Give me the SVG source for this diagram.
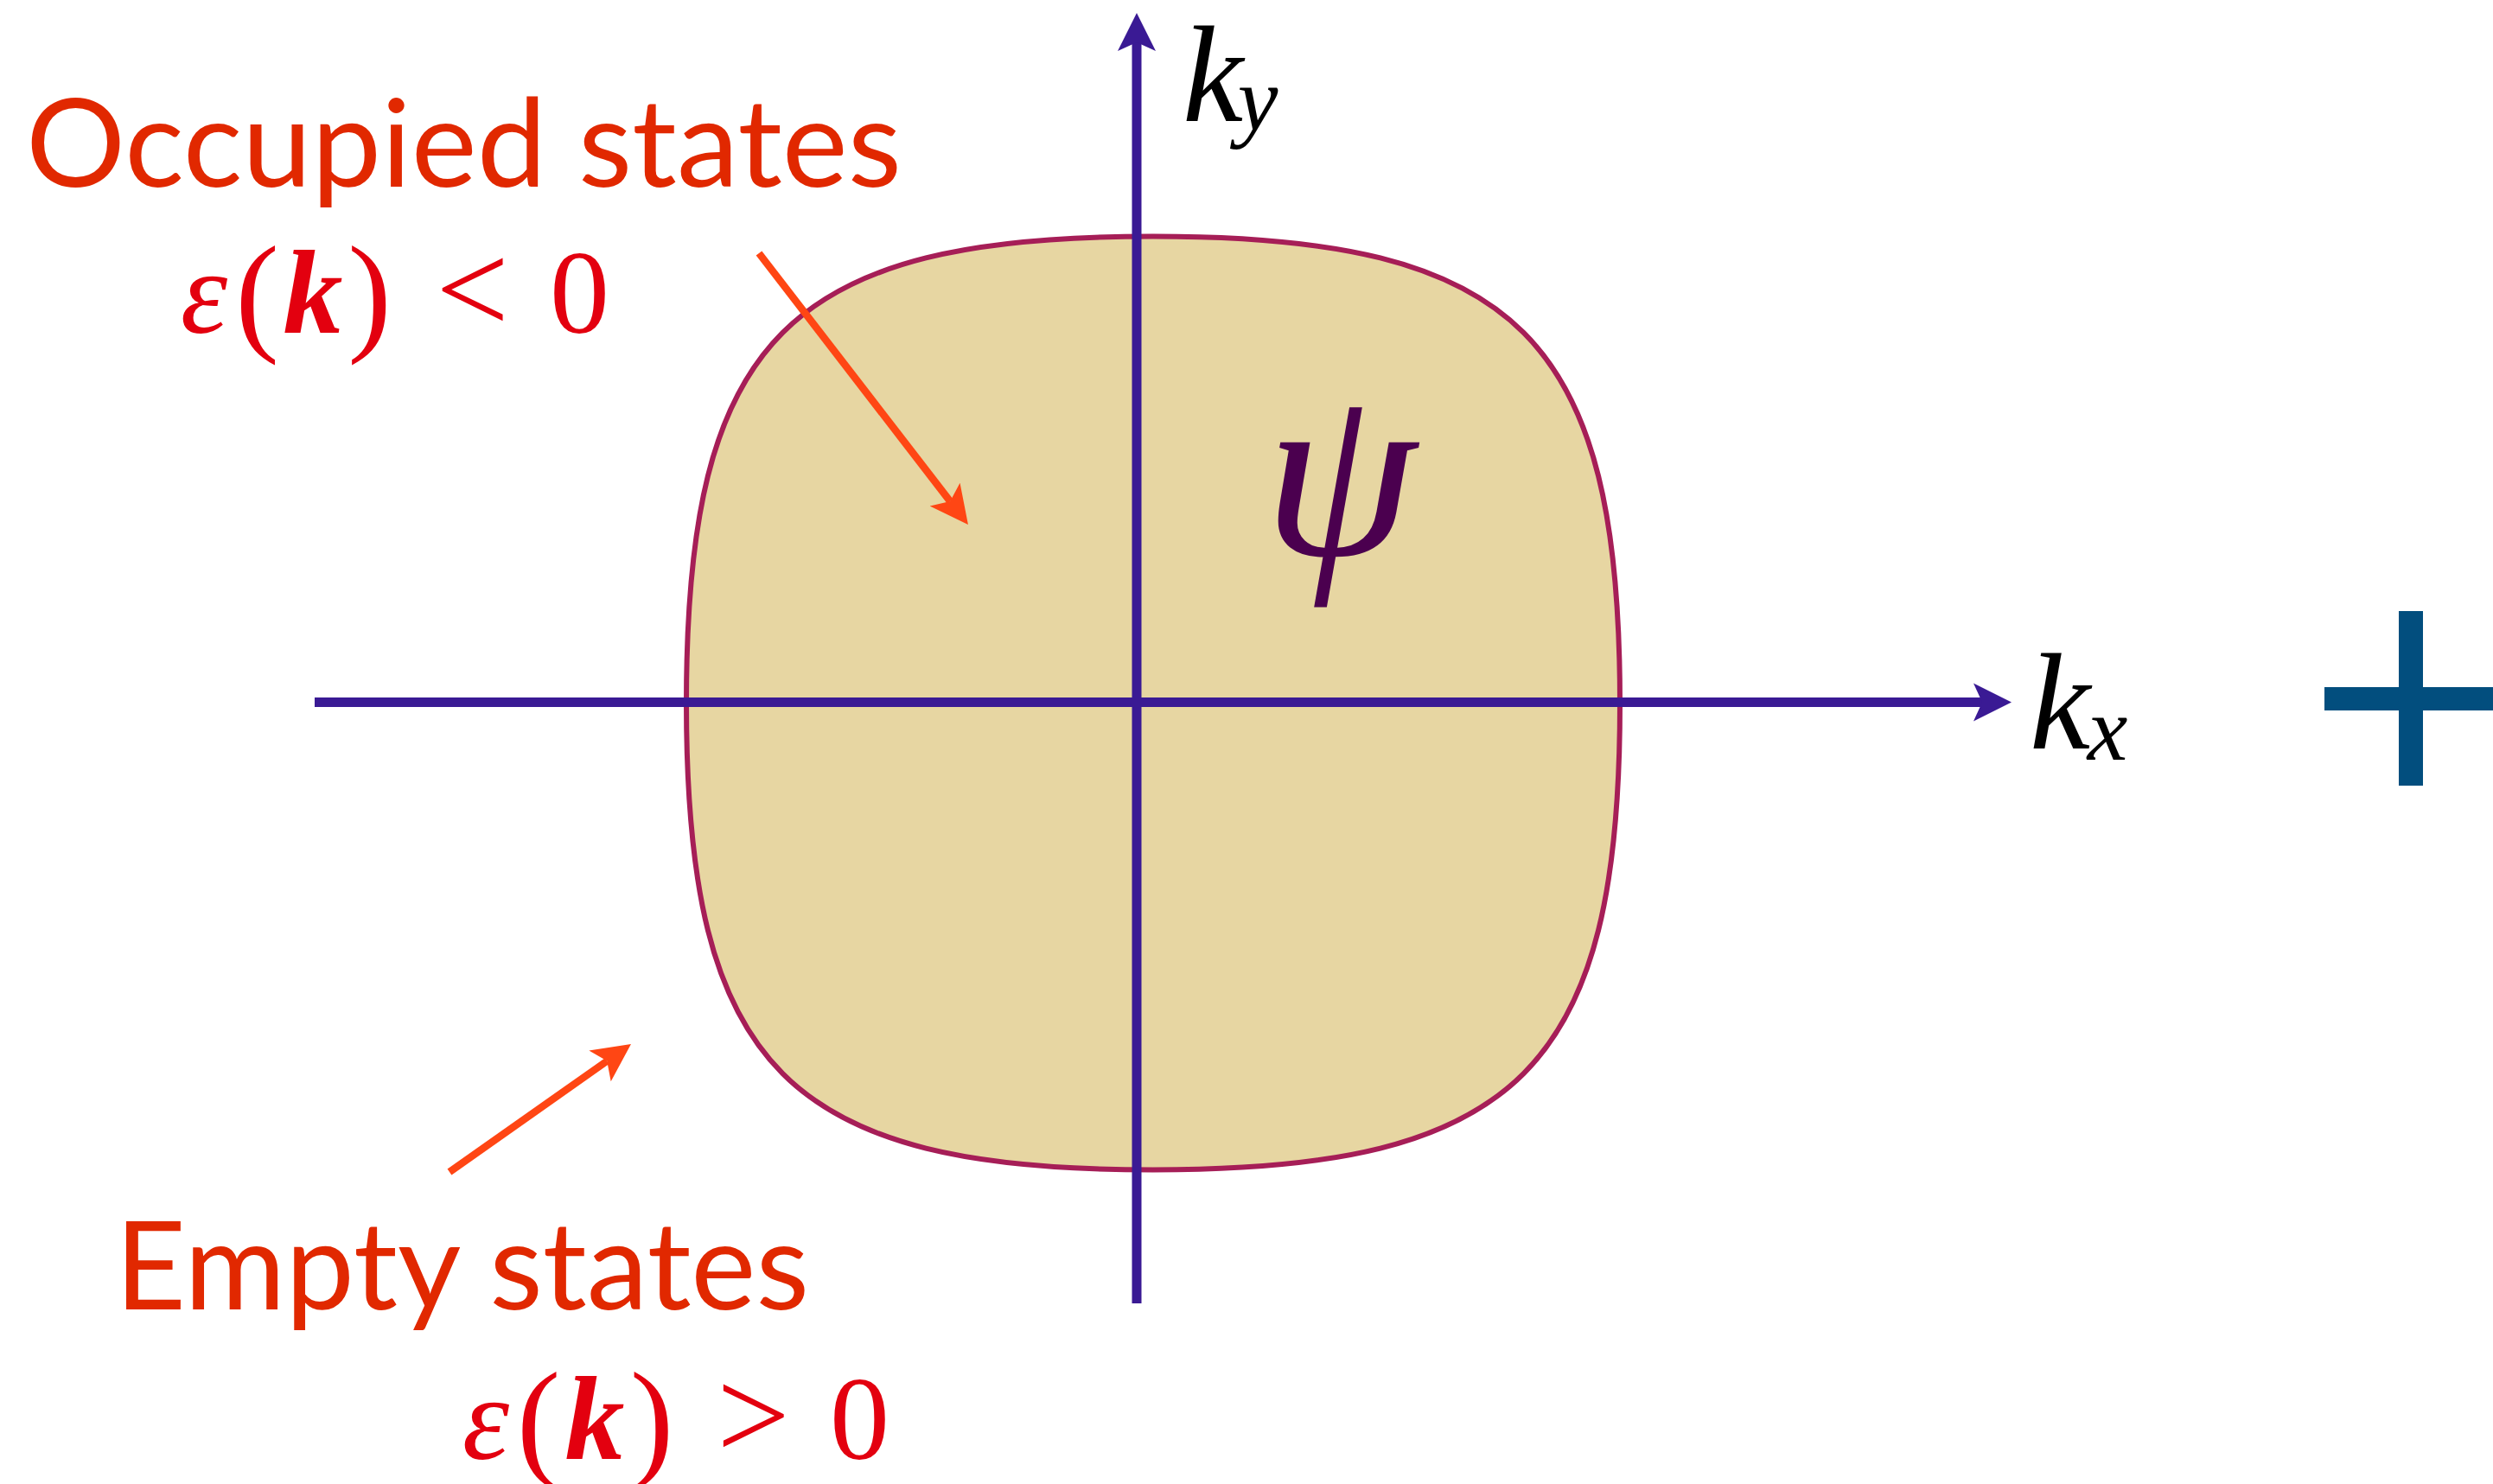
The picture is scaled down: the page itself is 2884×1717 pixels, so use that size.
<svg xmlns="http://www.w3.org/2000/svg" width="2884" height="1717" viewBox="0 0 2884 1717">
  <style>
    .title { font-family: "Lato", "Open Sans", sans-serif; font-size: 142px; fill: #E12800; }
    .math { font-family: "Liberation Serif", "DejaVu Serif", serif; fill: #E3000F; text-anchor: middle; }
    .it { font-style: italic; }
    .bi { font-style: italic; font-weight: bold; }
    .lbl { font-family: "Liberation Serif", "DejaVu Serif", serif; font-style: italic; fill: #000000; text-anchor: middle; }
    .axis { stroke: #3A1A94; stroke-width: 11; fill: none; }
    .ptr { stroke: #FF4614; stroke-width: 8.5; fill: none; }
  </style>
  <defs>
    <marker id="ah-axis" markerUnits="userSpaceOnUse" orient="auto" markerWidth="1" markerHeight="1" refX="0" refY="0" style="overflow:visible">
      <path d="M34,0 L-10,-22 L0,0 L-10,22 Z" fill="#3A1A94"/>
    </marker>
    <marker id="ah-ptr" markerUnits="userSpaceOnUse" orient="auto" markerWidth="1" markerHeight="1" refX="0" refY="0" style="overflow:visible">
      <path d="M34,0 L-10,-22 L0,0 L-10,22 Z" fill="#FF4614"/>
    </marker>
  </defs>
  <rect x="0" y="0" width="2884" height="1717" fill="#FFFFFF"/>

  <g id="fermi-surface">
    <path d="M1874,813.5 C1874,390.6 1756.9,273.5 1334,273.5 C911.1,273.5 794,390.6 794,813.5 C794,1236.4 911.1,1353.5 1334,1353.5 C1756.9,1353.5 1874,1236.4 1874,813.5 Z" fill="#E7D6A2" stroke="#A61E57" stroke-width="6"/>
  </g>

  <g id="connectors">
    <line class="axis" x1="364" y1="812.5" x2="2293" y2="812.5" marker-end="url(#ah-axis)"/>
    <line class="axis" x1="1315" y1="1508" x2="1315" y2="49" marker-end="url(#ah-axis)"/>
    <line class="ptr" x1="878" y1="293" x2="1099.2" y2="580.1" marker-end="url(#ah-ptr)"/>
    <line class="ptr" x1="520" y1="1356" x2="702.2" y2="1227.6" marker-end="url(#ah-ptr)"/>
  </g>

  <g id="psi">
    <text x="1550" y="642" font-family="Liberation Serif, DejaVu Serif, serif" font-style="italic" font-size="284" fill="#4B004F" text-anchor="middle">ψ</text>
  </g>

  <g id="axis-label-ky">
    <text class="lbl" x="1403" y="140" font-size="158">k</text>
    <text class="lbl" x="1455" y="150" font-size="105">y</text>
  </g>
  <g id="axis-label-kx">
    <text class="lbl" x="2383" y="866" font-size="158">k</text>
    <text class="lbl" x="2438" y="879" font-size="105">x</text>
  </g>

  <g id="label-occupied">
    <text class="title" x="30" y="216" textLength="1013" lengthAdjust="spacingAndGlyphs">Occupied states</text>
    <text class="math it" x="236" y="385" font-size="138">ε</text>
    <text class="math" x="297.5" y="390" font-size="152">(</text>
    <text class="math bi" x="362" y="385" font-size="138">k</text>
    <text class="math" x="427.5" y="390" font-size="152">)</text>
    <text class="math" x="546.5" y="385" font-size="150">&lt;</text>
    <text class="math" x="670.5" y="385" font-size="138">0</text>
  </g>

  <g id="label-empty">
    <text class="title" x="133" y="1515" textLength="803" lengthAdjust="spacingAndGlyphs">Empty states</text>
    <text class="math it" x="562" y="1688" font-size="138">ε</text>
    <text class="math" x="623" y="1693" font-size="152">(</text>
    <text class="math bi" x="688" y="1688" font-size="138">k</text>
    <text class="math" x="754" y="1693" font-size="152">)</text>
    <text class="math" x="871.5" y="1688" font-size="150">&gt;</text>
    <text class="math" x="994.5" y="1688" font-size="138">0</text>
  </g>

  <g id="plus">
    <rect x="2689" y="795" width="200" height="27" fill="#024E7E"/>
    <rect x="2775" y="707" width="28" height="202" fill="#024E7E"/>
  </g>
</svg>
